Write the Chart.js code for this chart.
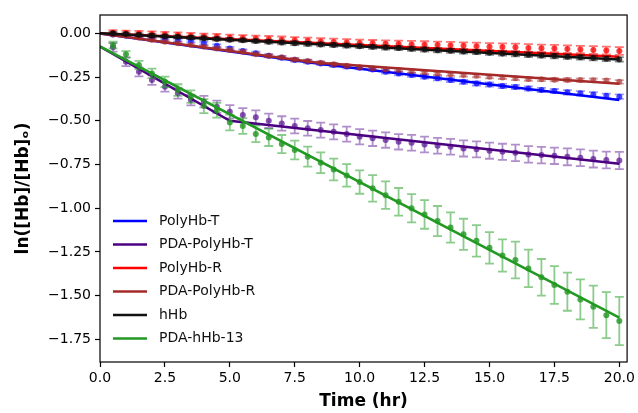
<!DOCTYPE html>
<html>
<head>
<meta charset="utf-8">
<script src="https://cdn.jsdelivr.net/npm/chart.js@4.4.1/dist/chart.umd.min.js"></script>
<style>
  html, body { margin: 0; padding: 0; background: #fff; }
  #wrap { width: 638px; height: 413px; }
</style>
</head>
<body>
<div id="wrap"><canvas id="decay" width="638" height="413"></canvas></div>
<script>
// sampling times (hr)
const times = [0.5, 1.0, 1.5, 2.0, 2.5, 3.0, 3.5, 4.0, 4.5, 5.0,
  5.5, 6.0, 6.5, 7.0, 7.5, 8.0, 8.5, 9.0, 9.5, 10.0,
  10.5, 11.0, 11.5, 12.0, 12.5, 13.0, 13.5, 14.0, 14.5, 15.0,
  15.5, 16.0, 16.5, 17.0, 17.5, 18.0, 18.5, 19.0, 19.5, 20.0];

// measured ln([Hb]/[Hb]o) and standard deviations
const polyHbT = [-0.006, -0.012, -0.018, -0.022, -0.029, -0.038, -0.044, -0.057, -0.071, -0.086,
  -0.101, -0.114, -0.128, -0.139, -0.152, -0.162, -0.172, -0.181, -0.190, -0.196,
  -0.206, -0.219, -0.229, -0.238, -0.248, -0.257, -0.267, -0.277, -0.286, -0.292,
  -0.301, -0.307, -0.315, -0.324, -0.330, -0.337, -0.343, -0.349, -0.357, -0.362];
const polyHbTErr = [0.006, 0.006, 0.007, 0.007, 0.007, 0.008, 0.008, 0.008, 0.008, 0.009,
  0.009, 0.009, 0.009, 0.009, 0.010, 0.010, 0.010, 0.010, 0.010, 0.010,
  0.010, 0.011, 0.011, 0.011, 0.011, 0.011, 0.011, 0.011, 0.012, 0.012,
  0.012, 0.012, 0.012, 0.012, 0.012, 0.013, 0.013, 0.013, 0.013, 0.013];

const pdaPolyHbT = [-0.080, -0.162, -0.220, -0.267, -0.305, -0.343, -0.381, -0.390, -0.420, -0.448,
  -0.467, -0.480, -0.500, -0.515, -0.530, -0.543, -0.553, -0.563, -0.576, -0.591,
  -0.600, -0.610, -0.620, -0.625, -0.635, -0.643, -0.648, -0.658, -0.663, -0.671,
  -0.677, -0.683, -0.692, -0.696, -0.700, -0.706, -0.711, -0.719, -0.724, -0.727];
const pdaPolyHbTErr = [0.024, 0.025, 0.026, 0.027, 0.028, 0.030, 0.031, 0.033, 0.035, 0.038,
  0.040, 0.040, 0.041, 0.041, 0.042, 0.042, 0.043, 0.043, 0.043, 0.044,
  0.044, 0.044, 0.044, 0.045, 0.045, 0.045, 0.045, 0.046, 0.046, 0.046,
  0.046, 0.047, 0.047, 0.047, 0.047, 0.048, 0.048, 0.048, 0.048, 0.049];

const polyHbR = [0.004, 0.002, -0.001, -0.004, -0.007, -0.010, -0.013, -0.017, -0.020, -0.024,
  -0.027, -0.030, -0.033, -0.036, -0.039, -0.042, -0.046, -0.049, -0.052, -0.055,
  -0.057, -0.059, -0.061, -0.063, -0.065, -0.067, -0.069, -0.071, -0.073, -0.076,
  -0.078, -0.080, -0.083, -0.085, -0.087, -0.090, -0.092, -0.095, -0.098, -0.101];
const polyHbRErr = [0.014, 0.014, 0.015, 0.015, 0.015, 0.016, 0.016, 0.016, 0.017, 0.017,
  0.017, 0.017, 0.018, 0.018, 0.018, 0.018, 0.018, 0.019, 0.019, 0.019,
  0.019, 0.019, 0.019, 0.020, 0.020, 0.020, 0.020, 0.020, 0.020, 0.020,
  0.021, 0.021, 0.021, 0.021, 0.021, 0.021, 0.021, 0.022, 0.022, 0.022];

const pdaPolyHbR = [-0.006, -0.013, -0.025, -0.038, -0.048, -0.057, -0.067, -0.076, -0.086, -0.095,
  -0.105, -0.120, -0.128, -0.137, -0.149, -0.158, -0.168, -0.177, -0.185, -0.194,
  -0.200, -0.206, -0.210, -0.216, -0.223, -0.229, -0.234, -0.238, -0.242, -0.248,
  -0.252, -0.257, -0.261, -0.263, -0.265, -0.266, -0.267, -0.268, -0.270, -0.277];
const pdaPolyHbRErr = [0.005, 0.005, 0.005, 0.006, 0.006, 0.006, 0.006, 0.006, 0.007, 0.007,
  0.007, 0.007, 0.007, 0.007, 0.008, 0.008, 0.008, 0.008, 0.008, 0.008,
  0.008, 0.008, 0.009, 0.009, 0.009, 0.009, 0.009, 0.009, 0.009, 0.009,
  0.009, 0.010, 0.010, 0.010, 0.010, 0.010, 0.010, 0.010, 0.010, 0.010];

const hHb = [0.000, -0.004, -0.008, -0.012, -0.016, -0.020, -0.024, -0.028, -0.032, -0.036,
  -0.040, -0.044, -0.048, -0.052, -0.056, -0.060, -0.063, -0.066, -0.070, -0.073,
  -0.077, -0.081, -0.084, -0.088, -0.092, -0.096, -0.099, -0.103, -0.107, -0.111,
  -0.115, -0.118, -0.122, -0.126, -0.130, -0.133, -0.137, -0.141, -0.145, -0.149];
const hHbErr = [0.008, 0.008, 0.008, 0.009, 0.009, 0.009, 0.009, 0.010, 0.010, 0.010,
  0.010, 0.010, 0.010, 0.011, 0.011, 0.011, 0.011, 0.011, 0.011, 0.011,
  0.011, 0.012, 0.012, 0.012, 0.012, 0.012, 0.012, 0.012, 0.012, 0.012,
  0.012, 0.013, 0.013, 0.013, 0.013, 0.013, 0.013, 0.013, 0.013, 0.013];

const pdaHHb13 = [-0.067, -0.120, -0.181, -0.229, -0.277, -0.324, -0.362, -0.416, -0.440, -0.510,
  -0.530, -0.575, -0.595, -0.633, -0.667, -0.705, -0.740, -0.778, -0.812, -0.850,
  -0.886, -0.925, -0.963, -1.000, -1.035, -1.073, -1.110, -1.149, -1.186, -1.226,
  -1.270, -1.296, -1.344, -1.395, -1.439, -1.477, -1.521, -1.563, -1.611, -1.645];
const pdaHHb13Err = [0.019, 0.019, 0.024, 0.027, 0.030, 0.033, 0.036, 0.040, 0.042, 0.045,
  0.045, 0.047, 0.049, 0.052, 0.054, 0.057, 0.059, 0.062, 0.064, 0.067,
  0.076, 0.079, 0.079, 0.081, 0.082, 0.086, 0.087, 0.089, 0.090, 0.090,
  0.092, 0.105, 0.107, 0.105, 0.108, 0.109, 0.114, 0.121, 0.131, 0.138];

// fitted kinetics (break points of each fit line)
const polyHbTFitX = [0, 8.5, 20];
const polyHbTFitY = [0, -0.175, -0.381];
const pdaPolyHbTFitX = [0, 5, 20];
const pdaPolyHbTFitY = [-0.075, -0.500, -0.745];
const polyHbRFitX = [0, 20];
const polyHbRFitY = [0, -0.134];
const pdaPolyHbRFitX = [0, 8.4, 20];
const pdaPolyHbRFitY = [0, -0.168, -0.288];
const hHbFitX = [0, 20];
const hHbFitY = [0, -0.150];
const pdaHHb13FitX = [0, 20];
const pdaHHb13FitY = [-0.075, -1.625];

const xTicks = [0, 2.5, 5, 7.5, 10, 12.5, 15, 17.5, 20];
const yTicks = [0, -0.25, -0.5, -0.75, -1.0, -1.25, -1.5, -1.75];

const series = [
  { label: 'PolyHb-T', y: polyHbT, err: polyHbTErr, fx: polyHbTFitX, fy: polyHbTFitY,
    line: '#0000ff', dot: 'rgba(0,0,255,0.7)', bar: 'rgba(0,0,255,0.4)' },
  { label: 'PDA-PolyHb-T', y: pdaPolyHbT, err: pdaPolyHbTErr, fx: pdaPolyHbTFitX, fy: pdaPolyHbTFitY,
    line: '#4b0082', dot: 'rgba(95,30,150,0.75)', bar: 'rgba(95,30,150,0.5)' },
  { label: 'PolyHb-R', y: polyHbR, err: polyHbRErr, fx: polyHbRFitX, fy: polyHbRFitY,
    line: '#ff0000', dot: 'rgba(255,0,0,0.75)', bar: 'rgba(255,0,0,0.55)' },
  { label: 'PDA-PolyHb-R', y: pdaPolyHbR, err: pdaPolyHbRErr, fx: pdaPolyHbRFitX, fy: pdaPolyHbRFitY,
    line: '#a52a2a', dot: 'rgba(165,42,42,0.6)', bar: 'rgba(165,42,42,0.45)' },
  { label: 'hHb', y: hHb, err: hHbErr, fx: hHbFitX, fy: hHbFitY,
    line: '#111111', dot: 'rgba(0,0,0,0.7)', bar: 'rgba(0,0,0,0.45)' },
  { label: 'PDA-hHb-13', y: pdaHHb13, err: pdaHHb13Err, fx: pdaHHb13FitX, fy: pdaHHb13FitY,
    line: '#229922', dot: 'rgba(34,150,34,0.8)', bar: 'rgba(44,160,44,0.55)' },
];

// later series sit on top, fit line above its own points
const datasets = [];
series.forEach((s, i) => {
  datasets.push({
    label: s.label + ' data',
    data: times.map((t, k) => ({ x: t, y: s.y[k] })),
    errors: s.err,
    errorColor: s.bar,
    showLine: false,
    pointRadius: 3,
    pointBorderWidth: 0,
    pointBackgroundColor: s.dot,
    order: 100 - i * 2,
  });
  datasets.push({
    label: s.label,
    fit: true,
    data: s.fx.map((t, k) => ({ x: t, y: s.fy[k] })),
    showLine: true,
    borderColor: s.line,
    borderWidth: 2.5,
    pointRadius: 0,
    order: 99 - i * 2,
  });
});

const errorBars = {
  id: 'errorBars',
  beforeDatasetDraw(chart, args) {
    const ds = chart.data.datasets[args.index];
    if (!ds.errors) return;
    const { ctx, chartArea: a, scales: { x, y } } = chart;
    ctx.save();
    ctx.beginPath();
    ctx.rect(a.left, a.top, a.right - a.left, a.bottom - a.top);
    ctx.clip();
    ctx.strokeStyle = ds.errorColor;
    ctx.lineWidth = 1.8;
    ds.data.forEach((p, i) => {
      const px = x.getPixelForValue(p.x);
      const top = y.getPixelForValue(p.y + ds.errors[i]);
      const bot = y.getPixelForValue(p.y - ds.errors[i]);
      ctx.beginPath();
      ctx.moveTo(px, top); ctx.lineTo(px, bot);
      ctx.moveTo(px - 4.5, top); ctx.lineTo(px + 4.5, top);
      ctx.moveTo(px - 4.5, bot); ctx.lineTo(px + 4.5, bot);
      ctx.stroke();
    });
    ctx.restore();
  }
};

const frame = {
  id: 'frame',
  afterDatasetsDraw(chart) {
    const { ctx, chartArea: a } = chart;
    ctx.save();
    ctx.strokeStyle = '#000';
    ctx.lineWidth = 1.2;
    ctx.strokeRect(a.left, a.top, a.right - a.left, a.bottom - a.top);
    ctx.restore();
  }
};

// line-only legend in the lower left of the plot
const fitLegend = {
  id: 'fitLegend',
  afterDraw(chart) {
    const { ctx } = chart;
    const fits = chart.data.datasets.filter(d => d.fit);
    ctx.save();
    ctx.font = '14px "DejaVu Sans"';
    ctx.textBaseline = 'middle';
    fits.forEach((d, i) => {
      const yy = 221 + i * 23.5;
      ctx.strokeStyle = d.borderColor;
      ctx.lineWidth = 2.5;
      ctx.beginPath();
      ctx.moveTo(113, yy);
      ctx.lineTo(147, yy);
      ctx.stroke();
      ctx.fillStyle = '#111';
      ctx.fillText(d.label, 159, yy);
    });
    ctx.restore();
  }
};

const tickFont = { family: 'DejaVu Sans', size: 14 };
const titleFont = { family: 'DejaVu Sans', size: 17, weight: 'bold' };

new Chart(document.getElementById('decay'), {
  type: 'scatter',
  data: { datasets },
  options: {
    responsive: false,
    animation: false,
    layout: { padding: { top: 15, right: 7, left: 0, bottom: 0 } },
    plugins: { legend: { display: false }, tooltip: { enabled: false } },
    scales: {
      x: {
        type: 'linear',
        min: 0,
        max: 20.3,
        afterBuildTicks: s => { s.ticks = xTicks.map(v => ({ value: v })); },
        afterFit: s => { s.height = 51; },
        border: { display: false },
        grid: { drawOnChartArea: false, color: '#000', tickLength: 5, tickWidth: 1.2 },
        ticks: { font: tickFont, color: '#000', padding: 3, autoSkip: false, maxRotation: 0,
          callback: v => v.toFixed(1) },
        title: { display: true, text: 'Time (hr)', font: titleFont, color: '#000',
          padding: { top: 0, bottom: 1 } },
      },
      y: {
        type: 'linear',
        min: -1.879,
        max: 0.105,
        afterBuildTicks: s => { s.ticks = yTicks.map(v => ({ value: v })); },
        afterFit: s => { s.width = 100; },
        border: { display: false },
        grid: { drawOnChartArea: false, color: '#000', tickLength: 5, tickWidth: 1.2 },
        ticks: { font: tickFont, color: '#000', padding: 4, autoSkip: false,
          callback: v => v.toFixed(2).replace('-', '\u2212') },
        title: { display: true, text: 'ln([Hb]/[Hb]\u2092)', font: titleFont, color: '#000',
          padding: { top: 13, bottom: 0 } },
      },
    },
  },
  plugins: [errorBars, frame, fitLegend],
});
</script>
</body>
</html>
